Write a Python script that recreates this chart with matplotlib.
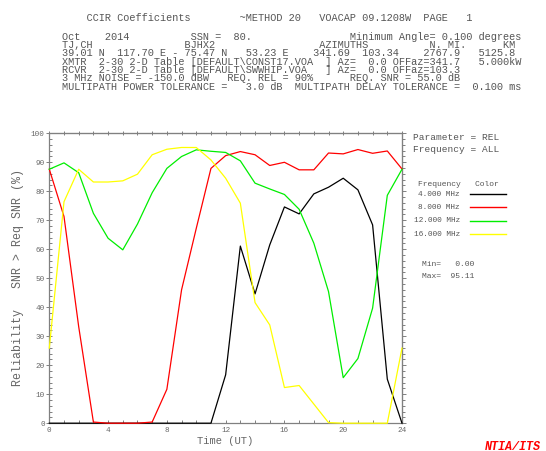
import matplotlib
matplotlib.use('Agg')
import matplotlib.pyplot as plt
from matplotlib.lines import Line2D
from matplotlib.ticker import MultipleLocator

plt.rcParams['font.family'] = ['Liberation Mono', 'DejaVu Sans Mono']

# reliability (%) per UT hour
hours = list(range(25))
rel_4mhz = [0, 0, 0, 0, 0, 0, 0, 0, 0, 0, 0, 0, 16.7, 61.1, 44.6, 61.5,
            74.6, 72.2, 79.1, 81.4, 84.5, 80.5, 68.4, 15.2, 0]
rel_8mhz = [87.6, 71.3, 33.3, 0.4, 0, 0, 0, 0.4, 11.7, 46.0, 67.2, 87.9, 92.3,
            93.7, 92.6, 88.9, 90.0, 87.4, 87.4, 93.2, 92.9, 94.4, 93.1, 93.9, 87.7]
rel_12mhz = [87.6, 89.8, 86.4, 72.4, 63.8, 59.8, 68.7, 79.5, 87.9, 92.0, 94.3,
             93.8, 93.4, 90.5, 82.8, 80.8, 78.9, 73.8, 62.1, 45.4, 15.7, 22.3,
             39.7, 78.6, 87.6]
rel_16mhz = [25.9, 76.4, 87.6, 83.2, 83.2, 83.6, 85.9, 92.6, 94.5, 95.11, 95.1,
             90.8, 84.5, 75.9, 41.6, 33.9, 12.3, 13.0, 6.6, 0.2, 0, 0, 0, 0, 25.9]

series = [rel_4mhz, rel_8mhz, rel_12mhz, rel_16mhz]
freq_labels = ["4.000 MHz", "8.000 MHz", "12.000 MHz", "16.000 MHz"]
colors = ['#000000', '#ff0000', '#00ee00', '#ffff00']

x_ticks = [0, 4, 8, 12, 16, 20, 24]
y_ticks = [0, 10, 20, 30, 40, 50, 60, 70, 80, 90, 100]


def row(*fields):
    # build one fixed-width line of the VOACAP header from (column, text)
    s = ""
    for col, txt in fields:
        s = s.ljust(col) + txt
    return s


header = [
    row((0, "Oct"), (7, "2014"), (21, "SSN =  80."), (47, "Minimum Angle= 0.100 degrees")),
    row((0, "TJ,CH"), (20, "BJHX2"), (42, "AZIMUTHS"), (60, "N. MI."), (72, "KM")),
    row((0, "39.01 N  117.70 E - 75.47 N   53.23 E"), (41, "341.69"), (49, "103.34"),
        (59, "2767.9"), (68, "5125.8")),
    row((0, "XMTR  2-30 2-D Table [DEFAULT\\CONST17.VOA"), (43, "] Az=  0.0 OFFaz=341.7"),
        (68, "5.000kW")),
    row((0, "RCVR  2-30 2-D Table [DEFAULT\\SWWHIP.VOA"), (43, "] Az=  0.0 OFFaz=103.3")),
    row((0, "3 MHz NOISE = -150.0 dBW"), (27, "REQ. REL = 90%"), (47, "REQ. SNR = 55.0 dB")),
    row((0, "MULTIPATH POWER TOLERANCE =   3.0 dB  MULTIPATH DELAY TOLERANCE =  0.100 ms")),
]
title_line = row((4, "CCIR Coefficients"), (29, "~METHOD 20"), (42, "VOACAP 09.1208W"),
                 (59, "PAGE"), (66, "1"))

W, H = 546, 451
fig = plt.figure(figsize=(W / 100, H / 100), dpi=100)
fig.patch.set_facecolor('white')


def px(x, y):
    return x / W, 1 - y / H


txtc = '#555555'
fig.text(*px(61.7, 18), title_line, fontsize=7.4, color=txtc, va='center', ha='left')
for i, line in enumerate(header):
    fig.text(*px(61.7, 37 + i * 8.25), line, fontsize=7.4, color=txtc, va='center', ha='left')

ax = fig.add_axes([49.3 / W, 1 - 423.2 / H, (402 - 49.3) / W, (423.2 - 133.3) / H])

for vals, c in zip(series, colors):
    ax.plot(hours, vals, color=c, linewidth=0.9, clip_on=False, zorder=3)

ax.set_xlim(0, 24)
ax.set_ylim(0, 100)
ax.set_xticks(x_ticks)
ax.set_yticks(y_ticks)
ax.xaxis.set_minor_locator(MultipleLocator(1))
ax.yaxis.set_minor_locator(MultipleLocator(2))
for s in ax.spines.values():
    s.set_color('#808080')
    s.set_linewidth(0.9)
ax.tick_params(axis='both', which='both', colors='#808080', labelcolor='#666666',
               labelsize=5.5, width=0.7, top=False, right=False)
ax.tick_params(axis='x', which='both', direction='in', length=2.2, pad=3)
ax.tick_params(axis='y', which='major', direction='inout', length=5, pad=0.8)
ax.tick_params(axis='y', which='minor', direction='in', length=1.8)

sec_r = ax.secondary_yaxis('right')
sec_r.set_yticks(y_ticks)
sec_r.yaxis.set_minor_locator(MultipleLocator(2))
sec_r.tick_params(which='major', direction='out', length=3, colors='#808080', width=0.7,
                  labelright=False)
sec_r.tick_params(which='minor', direction='out', length=2, colors='#808080', width=0.7)
sec_r.spines['right'].set_color('#808080')

sec_t = ax.secondary_xaxis('top')
sec_t.set_xticks(x_ticks)
sec_t.xaxis.set_minor_locator(MultipleLocator(1))
sec_t.tick_params(which='both', direction='inout', length=3, colors='#808080', width=0.7,
                  labeltop=False)
sec_t.spines['top'].set_color('#808080')

fig.text(*px(18, 278), "Reliability   SNR > Req SNR (%)", rotation=90, fontsize=8.4,
         color='#666666', ha='center', va='center')
fig.text(*px(196.7, 441.5), "Time (UT)", fontsize=7.6, color='#666666', ha='left', va='center')

# right-hand legend block
fig.text(*px(413, 137.3), "Parameter = REL", fontsize=6.8, color=txtc, va='center')
fig.text(*px(413, 149), "Frequency = ALL", fontsize=6.8, color=txtc, va='center')
fig.text(*px(418.3, 184), "Frequency   Color", fontsize=5.8, color=txtc, va='center')
for i, (lab, c) in enumerate(zip(freq_labels, colors)):
    yy = 194 + i * 13.4
    fig.text(*px(460, yy), lab, fontsize=5.6, color=txtc, ha='right', va='center')
    x0, y0 = px(470, yy)
    x1, _ = px(506, yy)
    fig.add_artist(Line2D([x0, x1], [y0, y0], color=c, linewidth=1.0))

all_vals = [v for s in series for v in s]
fig.text(*px(421.7, 265), "Min= %6.2f" % min(all_vals), fontsize=5.8, color=txtc, va='center')
fig.text(*px(421.7, 276), "Max= %6.2f" % max(all_vals), fontsize=5.8, color=txtc, va='center')

fig.text(*px(485, 446.5), "NTIA/ITS", fontsize=8.5, color='#ff0000', fontweight='bold',
         fontstyle='italic', va='center', ha='left')

fig.savefig("out.png", dpi=100)
